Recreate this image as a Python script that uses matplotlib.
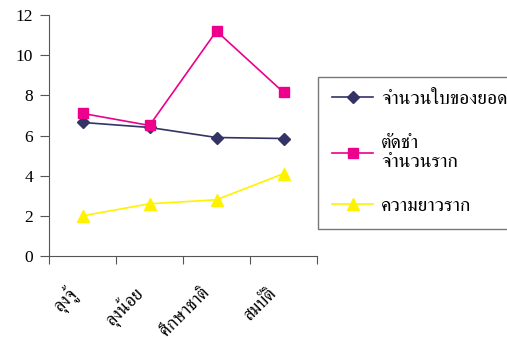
import matplotlib
matplotlib.use("Agg")
import matplotlib.pyplot as plt
import matplotlib.transforms as mtransforms
from matplotlib import font_manager
from matplotlib.ft2font import FT2Font

# DATA
categories = ["ลุงจู้", "ลุงน้อย", "ศึกษาชาติ", "สมบัติ"]
leaves = [6.65, 6.4, 5.9, 5.85]
roots = [7.1, 6.5, 11.2, 8.15]
root_len = [2.0, 2.6, 2.8, 4.1]
labels = ["จำนวนใบของยอด", "ตัดชำ\nจำนวนราก", "ความยาวราก"]
yticks = [0, 2, 4, 6, 8, 10, 12]

# FIND A FONT WITH THAI GLYPHS (prefer a serif / looped one)
cands = []
for path in sorted(font_manager.findSystemFonts()):
    try:
        if ord("ก") in FT2Font(path).get_charmap():
            cands.append(font_manager.FontProperties(fname=path).get_name())
    except Exception:
        pass
serif = [c for c in cands if "Serif" in c or "Looped" in c]
thai_font = (serif or cands or [None])[0]
fams = ([thai_font] if thai_font else []) + ["DejaVu Sans"]
plt.rcParams["font.family"] = fams

fig = plt.figure(figsize=(5.07, 3.38), dpi=100)
ax = fig.add_axes([49 / 507, 82 / 338, 268 / 507, 241 / 338])

x = [i + 0.5 for i in range(len(categories))]
ax.plot(x, leaves, color="#333366", marker="D", markersize=6.5, lw=1.2, label=labels[0])
ax.plot(x, roots, color="#EC008C", marker="s", markersize=7.5, lw=1.2, label=labels[1])
ax.plot(x, root_len, color="#FFF200", marker="^", markersize=9, lw=1.2, label=labels[2])

ax.set_xlim(0, 4)
ax.set_ylim(0, 12)
ax.set_yticks(yticks)
ax.set_yticklabels([str(v) for v in yticks], family="Liberation Serif", fontsize=12.5)
ax.set_xticks([0, 1, 2, 3, 4])
ax.set_xticklabels([])
ax.set_xticks(x, minor=True)
ax.set_xticklabels(categories, minor=True, rotation=45, ha="right", va="center",
                   rotation_mode="anchor", fontsize=13)
ax.tick_params(axis="x", which="minor", length=0, pad=25)
ax.tick_params(axis="x", which="major", direction="out", length=6, color="#555555")
ax.tick_params(axis="y", direction="out", length=6.5, color="#555555", pad=5)
shift = mtransforms.ScaledTranslation(-9 / 100, 0, fig.dpi_scale_trans)
for lab in ax.get_xticklabels(minor=True):
    lab.set_transform(lab.get_transform() + shift)
for s in ["top", "right"]:
    ax.spines[s].set_visible(False)
for s in ["left", "bottom"]:
    ax.spines[s].set_color("#555555")

leg = fig.legend(loc="upper left", bbox_to_anchor=(318 / 507, 1 - 77 / 338),
                 frameon=True, fancybox=False, fontsize=14, handlelength=2.15,
                 handletextpad=0.4, labelspacing=1.35, borderpad=0.7, borderaxespad=0)
leg.get_frame().set_edgecolor("#555555")
leg.get_frame().set_linewidth(1)

fig.savefig("out.png", dpi=100)
